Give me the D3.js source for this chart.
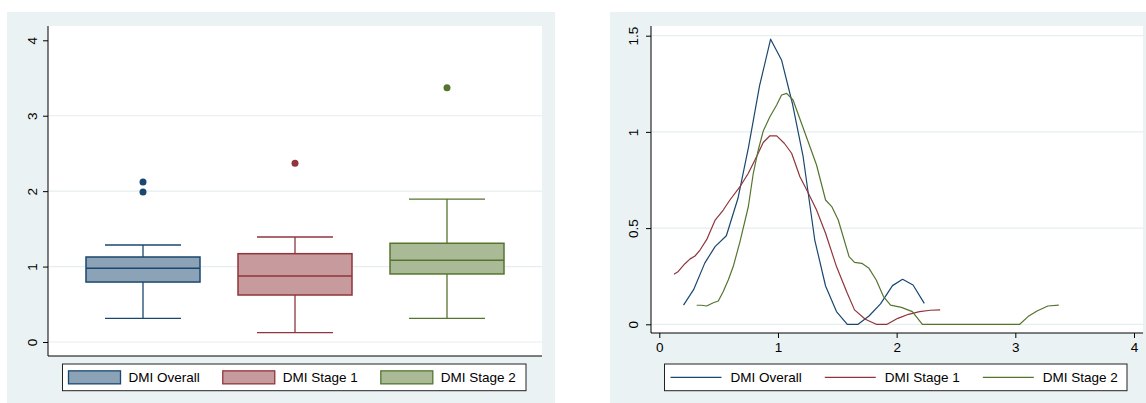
<!DOCTYPE html>
<html>
<head>
  <meta charset="UTF-8">
  <title>DMI box plot and densities</title>
  <style>
    body { margin: 0; background: #fff; }
    svg text { font-family: "Liberation Sans", Arial, sans-serif; fill: #000; }
  </style>
</head>
<body>
  <div class="graph"></div>
  <script src="https://d3js.org/d3.v7.min.js"></script>
  <script>

    /// data

    var groups = ["DMI Overall", "DMI Stage 1", "DMI Stage 2"];
    var colors = ["#1a476f", "#90353b", "#55752f"];
    var fills = ["#8ca3b7", "#c79a9d", "#aaba97"];

    // box plot summaries
    var lowerWhisker = [0.314, 0.123, 0.314];
    var q1 = [0.795, 0.623, 0.902];
    var median = [0.977, 0.875, 1.083];
    var q3 = [1.127, 1.171, 1.309];
    var upperWhisker = [1.286, 1.392, 1.895];
    var outliers = [[2.12, 1.99], [2.37], [3.37]];

    // kernel density curves, [x, density]
    var densOverall = [[0.204,0.10],[0.289,0.18],[0.383,0.318],[0.47,0.404],[0.565,0.46],[0.663,0.655],
      [0.751,0.918],[0.845,1.24],[0.938,1.482],[1.03,1.374],[1.121,1.149],[1.212,0.871],[1.31,0.438],
      [1.401,0.199],[1.493,0.066],[1.584,0],[1.675,0],[1.767,0.043],[1.864,0.106],[1.965,0.201],
      [2.05,0.234],[2.138,0.204],[2.233,0.109]];
    var densStage1 = [[0.124,0.26],[0.16,0.275],[0.216,0.315],[0.26,0.34],[0.301,0.355],[0.343,0.386],
      [0.399,0.44],[0.469,0.54],[0.539,0.594],[0.595,0.646],[0.68,0.715],[0.75,0.785],[0.806,0.854],
      [0.876,0.945],[0.932,0.98],[0.989,0.979],[1.053,0.941],[1.115,0.889],[1.185,0.767],[1.249,0.69],
      [1.325,0.594],[1.401,0.473],[1.493,0.30],[1.584,0.161],[1.645,0.075],[1.736,0.026],[1.828,0],
      [1.919,0],[2.01,0.031],[2.10,0.052],[2.193,0.066],[2.284,0.073],[2.367,0.075]];
    var densStage2 = [[0.315,0.099],[0.357,0.099],[0.399,0.095],[0.455,0.112],[0.497,0.121],[0.539,0.17],
      [0.581,0.23],[0.623,0.30],[0.68,0.43],[0.75,0.611],[0.792,0.785],[0.834,0.906],[0.876,1.005],
      [0.932,1.079],[0.989,1.14],[1.03,1.192],[1.073,1.20],[1.127,1.166],[1.188,1.062],[1.249,0.958],
      [1.325,0.828],[1.401,0.646],[1.453,0.612],[1.508,0.542],[1.599,0.352],[1.645,0.322],[1.706,0.317],
      [1.767,0.291],[1.828,0.23],[1.889,0.144],[1.949,0.10],[2.04,0.088],[2.132,0.066],[2.217,0],
      [3.037,0],[3.107,0.04],[3.183,0.069],[3.274,0.095],[3.366,0.10]];
    var densities = [densOverall, densStage1, densStage2];

    var boxTicks = [0, 1, 2, 3, 4];
    var boxGrid = [0, 1, 2, 3];
    var densYTicks = [0, 0.5, 1, 1.5];
    var densXTicks = [0, 1, 2, 3, 4];

    /// params

    var bgColor = "#eaf2f3";
    var gridColor = "#e6eef0";
    var fontSize = 13.5;
    var fmt = d3.format("~g");

    var svg = d3.select(".graph").append("svg")
      .attr("width", 1146)
      .attr("height", 403);

    // panel frames: outer = background, inner = plot region
    var left = {bg: [7, 12, 555, 403], plot: [48, 26, 542, 356]};
    var right = {bg: [610, 12, 1146, 403], plot: [651, 26, 1143, 333]};

    function drawFrame(p) {
      svg.append("rect")
        .attr("x", p.bg[0]).attr("y", p.bg[1])
        .attr("width", p.bg[2] - p.bg[0]).attr("height", p.bg[3] - p.bg[1])
        .attr("fill", bgColor);
      svg.append("rect")
        .attr("x", p.plot[0]).attr("y", p.plot[1])
        .attr("width", p.plot[2] - p.plot[0]).attr("height", p.plot[3] - p.plot[1])
        .attr("fill", "#fff");
    }
    drawFrame(left);
    drawFrame(right);

    // y axis with rotated labels, Stata style
    function yAxis(scale, ticks, x, labelOffset) {
      var g = svg.append("g")
        .attr("transform", "translate(" + x + ",0)")
        .call(d3.axisLeft(scale).tickValues(ticks).tickFormat(fmt).tickSize(5).tickSizeOuter(0));
      g.select(".domain").remove();
      g.selectAll(".tick line").attr("stroke", "#000");
      g.selectAll(".tick text")
        .attr("x", 0).attr("y", labelOffset).attr("dy", 0)
        .attr("text-anchor", "middle")
        .attr("transform", "rotate(-90)")
        .style("font-size", fontSize + "px")
        .style("font-family", "Liberation Sans, Arial, sans-serif");
      return g;
    }

    function grid(scale, ticks, x0, x1) {
      svg.append("g").selectAll("line")
        .data(ticks).enter().append("line")
          .attr("x1", x0).attr("x2", x1)
          .attr("y1", function(d) { return scale(d); })
          .attr("y2", function(d) { return scale(d); })
          .attr("stroke", gridColor)
          .attr("stroke-width", 1.2);
    }

    function axisLines(p) {
      svg.append("line")
        .attr("x1", p.plot[0]).attr("x2", p.plot[0])
        .attr("y1", p.plot[1]).attr("y2", p.plot[3])
        .attr("stroke", "#000");
      svg.append("line")
        .attr("x1", p.plot[0]).attr("x2", p.plot[2])
        .attr("y1", p.plot[3]).attr("y2", p.plot[3])
        .attr("stroke", "#000");
    }

    /// left: box plot

    var boxY = d3.scaleLinear().domain([0, 4]).range([342, 40.3]);
    var boxX = d3.scaleBand()
      .domain(groups)
      .range([left.plot[0], left.plot[2]])
      .paddingInner(0.25)
      .paddingOuter(0.25);

    grid(boxY, boxGrid, left.plot[0], left.plot[2]);
    yAxis(boxY, boxTicks, left.plot[0], -11.5);

    var boxes = svg.append("g").selectAll("g")
      .data(groups).enter().append("g");

    boxes.each(function(name, i) {
      var g = d3.select(this);
      var bx = boxX(name), bw = boxX.bandwidth(), cx = bx + bw / 2, cap = bw / 3;

      // whiskers
      g.append("line").attr("x1", cx).attr("x2", cx)
        .attr("y1", boxY(q3[i])).attr("y2", boxY(upperWhisker[i]))
        .attr("stroke", colors[i]).attr("stroke-width", 1.3);
      g.append("line").attr("x1", cx).attr("x2", cx)
        .attr("y1", boxY(q1[i])).attr("y2", boxY(lowerWhisker[i]))
        .attr("stroke", colors[i]).attr("stroke-width", 1.3);
      [upperWhisker[i], lowerWhisker[i]].forEach(function(v) {
        g.append("line").attr("x1", cx - cap).attr("x2", cx + cap)
          .attr("y1", boxY(v)).attr("y2", boxY(v))
          .attr("stroke", colors[i]).attr("stroke-width", 1.3);
      });

      // box and median
      g.append("rect")
        .attr("x", bx).attr("width", bw)
        .attr("y", boxY(q3[i])).attr("height", boxY(q1[i]) - boxY(q3[i]))
        .attr("fill", fills[i])
        .attr("stroke", colors[i]).attr("stroke-width", 1.5);
      g.append("line").attr("x1", bx).attr("x2", bx + bw)
        .attr("y1", boxY(median[i])).attr("y2", boxY(median[i]))
        .attr("stroke", colors[i]).attr("stroke-width", 1.5);

      // outside values
      g.selectAll("circle").data(outliers[i]).enter().append("circle")
        .attr("cx", cx).attr("cy", function(d) { return boxY(d); })
        .attr("r", 3.5)
        .attr("fill", colors[i]);
    });

    axisLines(left);

    /// right: kernel densities

    var densX = d3.scaleLinear().domain([0, 4]).range([659.3, 1134]);
    var densY = d3.scaleLinear().domain([0, 1.5]).range([324.3, 35.7]);

    grid(densY, densYTicks, right.plot[0], right.plot[2]);
    yAxis(densY, densYTicks, right.plot[0], -13);

    var xg = svg.append("g")
      .attr("transform", "translate(0," + right.plot[3] + ")")
      .call(d3.axisBottom(densX).tickValues(densXTicks).tickFormat(fmt)
        .tickSize(5).tickSizeOuter(0).tickPadding(4));
    xg.select(".domain").remove();
    xg.selectAll(".tick line").attr("stroke", "#000");
    xg.selectAll(".tick text")
      .style("font-size", fontSize + "px")
      .style("font-family", "Liberation Sans, Arial, sans-serif");

    var line = d3.line()
      .x(function(d) { return densX(d[0]); })
      .y(function(d) { return densY(d[1]); });

    svg.append("g").selectAll("path")
      .data(densities).enter().append("path")
        .attr("d", line)
        .attr("fill", "none")
        .attr("stroke", function(d, i) { return colors[i]; })
        .attr("stroke-width", 1.2)
        .attr("stroke-linejoin", "round");

    axisLines(right);

    /// legends

    function legend(x0, x1, kind) {
      var top = 364, bottom = 390.7, mid = (top + bottom) / 2;
      svg.append("rect")
        .attr("x", x0).attr("y", top)
        .attr("width", x1 - x0).attr("height", bottom - top)
        .attr("fill", "#fff").attr("stroke", "#222").attr("stroke-width", 1);

      var cursor = x0 + 6;
      groups.forEach(function(name, i) {
        if (kind == "box") {
          svg.append("rect")
            .attr("x", cursor).attr("y", mid - 6.5)
            .attr("width", 52).attr("height", 13)
            .attr("fill", fills[i]).attr("stroke", colors[i]).attr("stroke-width", 1.3);
        } else {
          svg.append("line")
            .attr("x1", cursor).attr("x2", cursor + 51)
            .attr("y1", mid).attr("y2", mid)
            .attr("stroke", colors[i]).attr("stroke-width", 1.2);
        }
        var t = svg.append("text")
          .attr("x", cursor + 60).attr("y", mid + 5)
          .style("font-size", fontSize + "px")
          .text(name);
        cursor = cursor + 60 + t.node().getComputedTextLength() + 23;
      });
    }

    legend(62.5, 526, "box");
    legend(664.5, 1127, "line");

  </script>
</body>
</html>
